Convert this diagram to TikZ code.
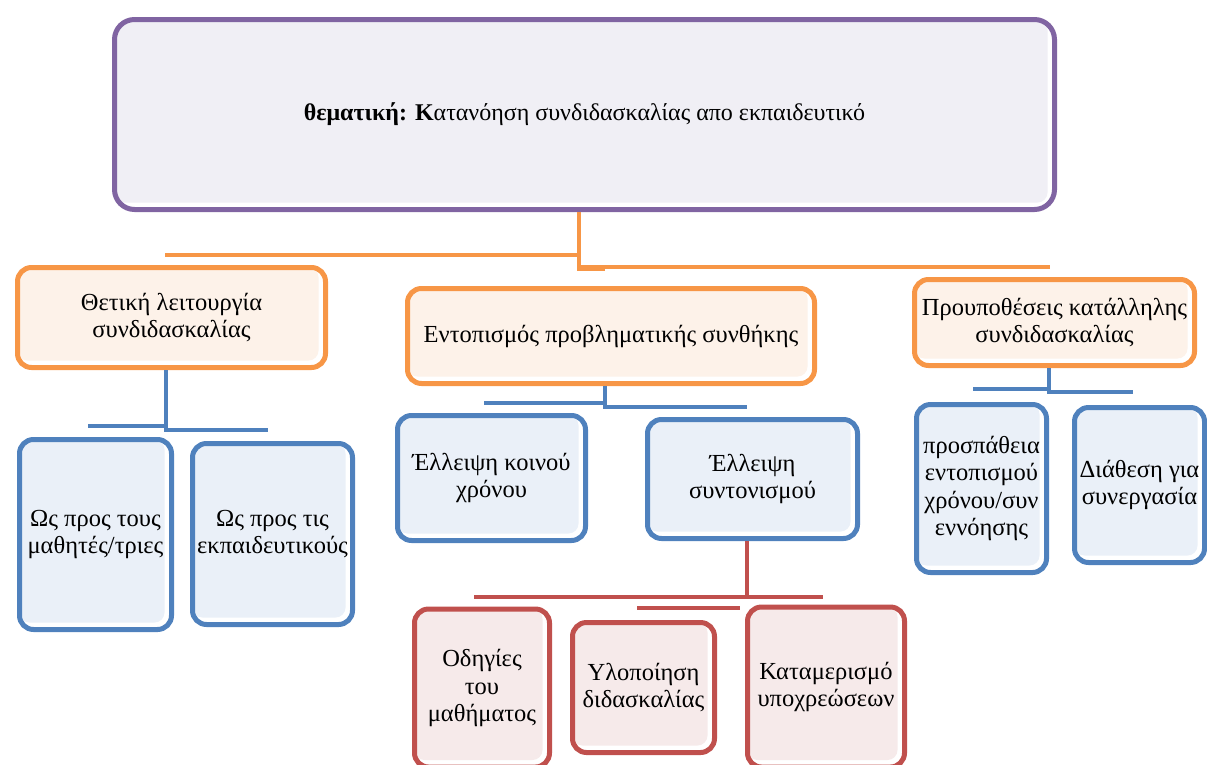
\documentclass[tikz,border=0pt]{standalone}
\usepackage{fontspec}
\setmainfont{Liberation Serif}
\definecolor{purp}{HTML}{8064A2}
\definecolor{purpf}{HTML}{F0EFF5}
\definecolor{orng}{HTML}{F79646}
\definecolor{orngf}{HTML}{FDF2E9}
\definecolor{blu}{HTML}{4F81BD}
\definecolor{bluf}{HTML}{EAF0F8}
\definecolor{rd}{HTML}{C0504D}
\definecolor{rdf}{HTML}{F6EAEA}
\tikzset{
  % rounded box: pale tint with a thin white rim along the bottom and right
  box/.style={rounded corners=14pt, line width=5pt, align=center, inner sep=0pt,
    font=\fontsize{24.5}{27.5}\selectfont, fill=white,
    path picture={\fill[#1, rounded corners=10pt]
      (path picture bounding box.north west) rectangle
      ([shift={(-7,-7)}]path picture bounding box.south east);}},
  topbox/.style={box=purpf, rounded corners=20pt, draw=purp,
    font=\fontsize{24}{28}\selectfont},
  obox/.style={box=orngf, draw=orng},
  bbox/.style={box=bluf, draw=blu},
  rbox/.style={box=rdf, draw=rd},
  link/.style={line width=4pt},
  olink/.style={link, draw=orng},
  blink/.style={link, draw=blu},
  rlink/.style={link, draw=rd},
}
\begin{document}
\begin{tikzpicture}[x=1pt, y=-1pt]
\useasboundingbox (0,0) rectangle (1207,764);

% root
\node[topbox, minimum width=940, minimum height=190] (top) at (584.5,114.5)
  {\textbf{θεματική: Κ}ατανόηση συνδιδασκαλίας απο εκπαιδευτικό};

% second level
\node[obox, minimum width=308, minimum height=100] (o1) at (171.5,317.5)
  {Θετική λειτουργία\\συνδιδασκαλίας};
\node[obox, minimum width=407, minimum height=95] (o2) at (611,336)
  {Εντοπισμός προβληματικής συνθήκης};
\node[obox, minimum width=280, minimum height=86] (o3) at (1054.5,322.5)
  {Προυποθέσεις κατάλληλης\\συνδιδασκαλίας};

% third level
\node[bbox, minimum width=152, minimum height=190] (b1) at (95.5,534.5)
  {Ως προς τους\\μαθητές/τριες};
\node[bbox, minimum width=160, minimum height=181] (b2) at (272.5,534)
  {Ως προς τις\\εκπαιδευτικούς};
\node[bbox, minimum width=188, minimum height=125] (b3) at (491.5,478)
  {Έλλειψη κοινού\\χρόνου};
\node[bbox, minimum width=210, minimum height=119] (b4) at (752.5,479)
  {Έλλειψη\\συντονισμού};
\node[bbox, minimum width=130, minimum height=168] (b5) at (981.5,488.5)
  {προσπάθεια\\εντοπισμού\\χρόνου/συν\\εννόησης};
\node[bbox, minimum width=130, minimum height=155] (b6) at (1139.5,485)
  {Διάθεση για\\συνεργασία};

% fourth level
\node[rbox, minimum width=135, minimum height=158] (r1) at (482,688)
  {Οδηγίες\\του\\μαθήματος};
\node[rbox, minimum width=142, minimum height=130] (r2) at (643.5,687.5)
  {Υλοποίηση\\διδασκαλίας};
\node[rbox, minimum width=157, minimum height=160] (r3) at (826,687)
  {Καταμερισμό\\υποχρεώσεων};

% root to second level
\coordinate (oa) at (165,255);
\coordinate (ob) at (1050,267);
\draw[olink] ([xshift=-5.5]top.south) -- (579,269) -- (605,269);
\draw[olink] (oa) -- (579,255);
\draw[olink] (579,267) -- (ob);

% second level to third level
\coordinate (ba1) at (88,426);
\coordinate (ba2) at (268,430);
\draw[blink] (o1.south -| 166,0) -- (166,430) -- (ba2);
\draw[blink] (ba1) -- (166,426);
\coordinate (bb1) at (484,403);
\coordinate (bb2) at (747,407);
\draw[blink] (o2.south -| 605,0) -- (605,407) -- (bb2);
\draw[blink] (bb1) -- (605,403);
\coordinate (bc1) at (973,389);
\coordinate (bc2) at (1133,392);
\draw[blink] (o3.south -| 1049,0) -- (1049,392) -- (bc2);
\draw[blink] (bc1) -- (1049,389);

% third level to fourth level
\coordinate (ra1) at (474,597);
\coordinate (ra2) at (823,597);
\coordinate (ra3) at (637,608);
\draw[rlink] (b4.south -| 747,0) -- (747,597);
\draw[rlink] (ra1) -- (ra2);
\draw[rlink] (ra3) -- (740,608);
\end{tikzpicture}
\end{document}
